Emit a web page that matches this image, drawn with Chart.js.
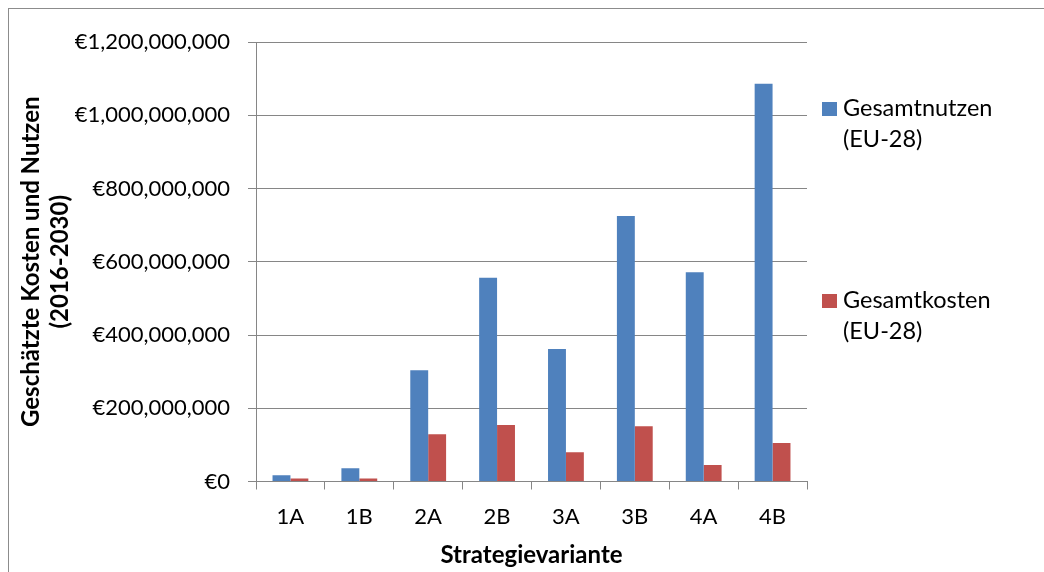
<!DOCTYPE html>
<html>
<head>
<meta charset="utf-8">
<script src="https://cdn.jsdelivr.net/npm/chart.js@4/dist/chart.umd.min.js"></script>
<style>
  html, body { margin: 0; padding: 0; background: #fff; }
  #wrap { position: relative; width: 1044px; height: 572px; overflow: hidden; }
  #frame { position: absolute; left: 8px; top: 8px; width: 1100px; height: 700px; border: 1px solid #8c8c8c; box-sizing: border-box; }
  #legend { position: absolute; left: 822px; top: 0; font-family: Lato, 'Open Sans', sans-serif; font-size: 23.5px; color: #000; }
  .item { position: absolute; left: 0; width: 220px; line-height: 31px; padding-left: 21px; }
  .box { position: absolute; left: 0; width: 15px; height: 14px; }
</style>
</head>
<body>
<div id="wrap">
  <div id="frame"></div>
  <canvas id="chart" width="1044" height="572"></canvas>
  <div id="legend"></div>
</div>
<script>
//Categories and values
const variants = ['1A', '1B', '2A', '2B', '3A', '3B', '4A', '4B'];
const benefits = [17e6, 36e6, 304e6, 556e6, 362e6, 725e6, 571e6, 1086e6];
const costs = [8e6, 8e6, 129e6, 154e6, 80e6, 151e6, 45e6, 105e6];
const seriesNames = ['Gesamtnutzen (EU-28)', 'Gesamtkosten (EU-28)'];
const yTicks = [0, 200e6, 400e6, 600e6, 800e6, 1000e6, 1200e6];

//Colours (Excel 2007 defaults)
const blue = '#4F81BD';
const red = '#C0504D';
const gridColor = '#868686';

Chart.defaults.font.family = `Lato, 'Open Sans', sans-serif`;
Chart.defaults.color = '#000';

const chart = new Chart('chart', {
  type: 'bar',
  data: {
    labels: variants,
    datasets: [
      { label: seriesNames[0], data: benefits, backgroundColor: blue, barPercentage: 1, categoryPercentage: 0.52 },
      { label: seriesNames[1], data: costs, backgroundColor: red, barPercentage: 1, categoryPercentage: 0.52 },
    ],
  },
  options: {
    responsive: false,
    animation: false,
    layout: { padding: { left: 8, top: 42, right: 237, bottom: 0 } },
    plugins: {
      legend: { display: false },
      tooltip: { enabled: false },
    },
    scales: {
      x: {
        grid: { drawOnChartArea: false, drawTicks: true, tickLength: 8, color: gridColor },
        border: { color: gridColor },
        ticks: { padding: 14, font: { size: 22 }, maxRotation: 0 },
        title: {
          display: true,
          text: 'Strategievariante',
          font: { size: 24, weight: 'bold' },
          padding: { top: 0, bottom: 2 },
        },
        afterFit: (scale) => { scale.height = 572 - 481.5; },
      },
      y: {
        min: 0,
        max: 1200e6,
        afterBuildTicks: (scale) => { scale.ticks = yTicks.map((v) => ({ value: v })); },
        grid: { color: gridColor, tickLength: 8 },
        border: { color: gridColor },
        ticks: {
          padding: 18,
          font: { size: 22 },
          callback: (v) => '€' + Number(v).toLocaleString('en-US'),
        },
        title: {
          display: true,
          text: ['Geschätzte Kosten und Nutzen', '(2016-2030)'],
          font: { size: 24, weight: 'bold' },
          padding: { top: 9, bottom: 0 },
        },
        afterFit: (scale) => { scale.width = 256 - 8; },
      },
    },
  },
});

//HTML legend built from the datasets
const legendTops = [92, 284];
const legend = document.getElementById('legend');
chart.data.datasets.forEach((ds, i) => {
  const item = document.createElement('div');
  item.className = 'item';
  item.style.top = legendTops[i] + 'px';
  const box = document.createElement('div');
  box.className = 'box';
  box.style.background = ds.backgroundColor;
  box.style.top = '10px';
  item.appendChild(box);
  const parts = ds.label.split(' (');
  item.appendChild(document.createTextNode(parts[0]));
  item.appendChild(document.createElement('br'));
  item.appendChild(document.createTextNode('(' + parts[1]));
  legend.appendChild(item);
});
</script>
</body>
</html>
